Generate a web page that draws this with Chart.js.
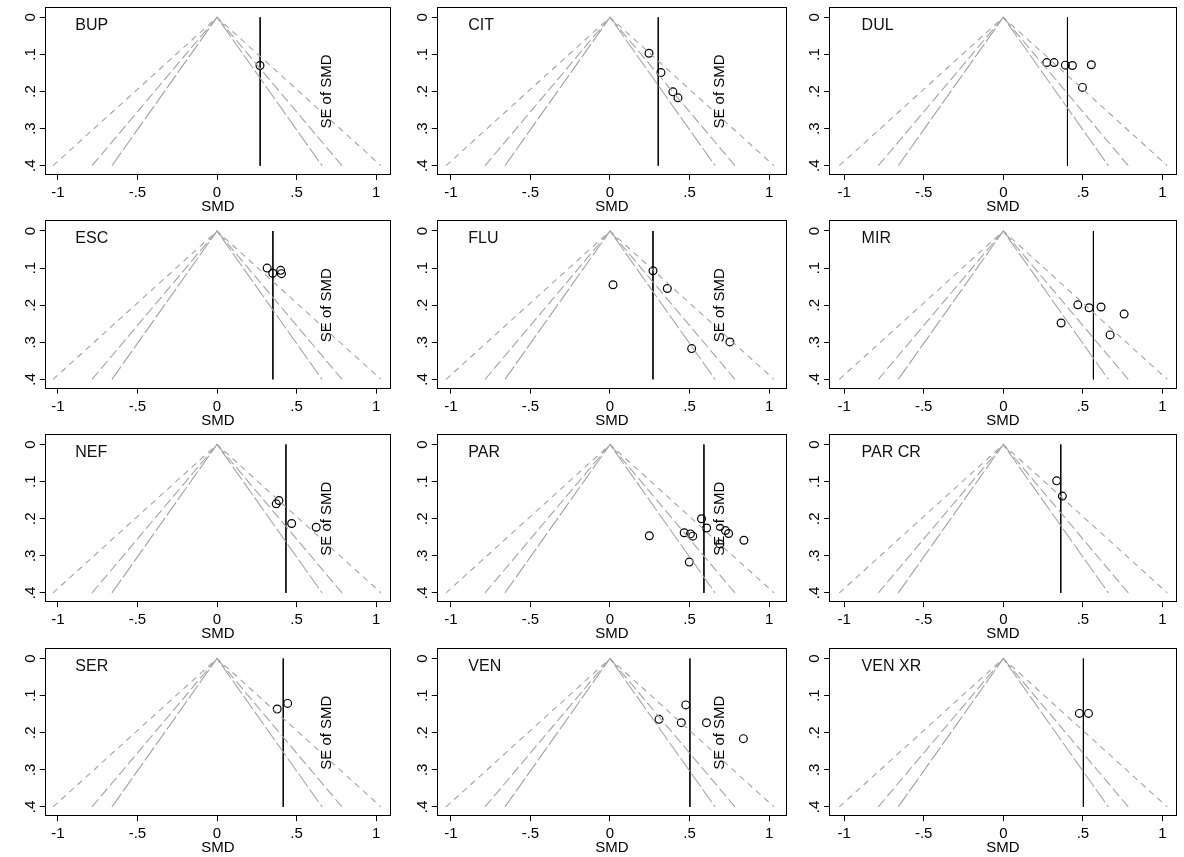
<!DOCTYPE html>
<html><head><meta charset="utf-8">
<script src="https://cdn.jsdelivr.net/npm/chart.js@4.4.1/dist/chart.umd.min.js"></script>
<style>
html,body{margin:0;padding:0;background:#fff;}
body{width:1184px;height:857px;overflow:hidden;position:relative;}
canvas{position:absolute;}
</style></head><body>
<script>
// ---------- data ----------
const panelNames = ['BUP','CIT','DUL','ESC','FLU','MIR','NEF','PAR','PAR CR','SER','VEN','VEN XR'];

const bupSMD = [0.27];
const bupSE  = [0.13];
const citSMD = [0.245, 0.32, 0.395, 0.427];
const citSE  = [0.097, 0.149, 0.201, 0.217];
const dulSMD = [0.273, 0.319, 0.39, 0.434, 0.553, 0.497];
const dulSE  = [0.122, 0.122, 0.129, 0.130, 0.128, 0.189];
const escSMD = [0.315, 0.35, 0.40, 0.405];
const escSE  = [0.100, 0.114, 0.106, 0.115];
const fluSMD = [0.27, 0.019, 0.36, 0.513, 0.753];
const fluSE  = [0.107, 0.145, 0.155, 0.317, 0.299];
const mirSMD = [0.468, 0.539, 0.614, 0.759, 0.363, 0.671];
const mirSE  = [0.199, 0.207, 0.205, 0.224, 0.248, 0.280];
const nefSMD = [0.372, 0.389, 0.469, 0.623];
const nefSE  = [0.160, 0.151, 0.213, 0.223];
const parSMD = [0.247, 0.466, 0.505, 0.52, 0.575, 0.607, 0.725, 0.745, 0.69, 0.841, 0.498];
const parSE  = [0.246, 0.238, 0.241, 0.247, 0.200, 0.225, 0.232, 0.240, 0.268, 0.258, 0.317];
const parcrSMD = [0.335, 0.371];
const parcrSE  = [0.098, 0.139];
const serSMD = [0.378, 0.444];
const serSE  = [0.136, 0.121];
const venSMD = [0.308, 0.448, 0.476, 0.606, 0.838];
const venSE  = [0.164, 0.173, 0.125, 0.173, 0.216];
const venxrSMD = [0.478, 0.535];
const venxrSE  = [0.148, 0.148];

const pooledSMD = [0.271, 0.303, 0.403, 0.351, 0.27, 0.566, 0.433, 0.59, 0.361, 0.416, 0.502, 0.503];

const xTickValues = [-1, -0.5, 0, 0.5, 1];
const xTickLabels = ['-1', '-.5', '0', '.5', '1'];
const yTickValues = [0, 0.1, 0.2, 0.3, 0.4];
const yTickLabels = ['0', '.1', '.2', '.3', '.4'];

// funnel limits read at SE = .4 (inner, middle, outer)
const funnelEdgeSMD = [0.66, 0.785, 1.03];
const funnelMaxSE = 0.4;

const panelSMD = [bupSMD, citSMD, dulSMD, escSMD, fluSMD, mirSMD, nefSMD, parSMD, parcrSMD, serSMD, venSMD, venxrSMD];
const panelSE  = [bupSE, citSE, dulSE, escSE, fluSE, mirSE, nefSE, parSE, parcrSE, serSE, venSE, venxrSE];

// ---------- layout ----------
const colZeroPx = [217, 610, 1003.3];
const colXmin = [-1.082, -1.088, -1.094];
const colXmax = [1.093, 1.113, 1.09];
const unitX = 159.2;
const rowZeroPx = [17.3, 231, 444.5, 658.5];
const unitY = 371;
const yMin = -0.029, yMax = 0.425;
const FONT = '"Liberation Sans", Arial, Helvetica, sans-serif';
const funnelDash = [[16, 3], [10, 4], [6, 5]];

const panelDecor = {
  id: 'panelDecor',
  afterDraw(chart, args, opts) {
    const {ctx, chartArea: a} = chart;
    const x = chart.scales.x, y = chart.scales.y;
    ctx.save();
    ctx.strokeStyle = '#000';
    ctx.lineWidth = 1;
    const l = Math.round(a.left), t = Math.round(a.top), r = Math.round(a.right), b = Math.round(a.bottom);
    ctx.strokeRect(l + 0.5, t + 0.5, r - l - 1, b - t - 1);
    ctx.fillStyle = '#000';
    ctx.font = '15px ' + FONT;
    yTickValues.forEach((v, k) => {
      const py = y.getPixelForValue(v);
      ctx.save();
      ctx.translate(a.left - 10, py);
      ctx.rotate(-Math.PI / 2);
      ctx.textAlign = 'center';
      ctx.textBaseline = 'alphabetic';
      ctx.fillText(yTickLabels[k], 0, 0);
      ctx.restore();
    });
    ctx.font = '16px ' + FONT;
    ctx.fillStyle = '#111';
    ctx.textAlign = 'left';
    ctx.textBaseline = 'middle';
    ctx.fillText(opts.name, x.getPixelForValue(-0.89), y.getPixelForValue(0.0215));
    if (opts.seText) {
      ctx.save();
      ctx.fillStyle = '#000';
      ctx.font = '15px ' + FONT;
      ctx.translate(x.getPixelForValue(0.69), y.getPixelForValue(0.2));
      ctx.rotate(-Math.PI / 2);
      ctx.textAlign = 'center';
      ctx.textBaseline = 'middle';
      ctx.fillText('SE of SMD', 0, 0);
      ctx.restore();
    }
    ctx.restore();
  }
};

panelNames.forEach((name, i) => {
  const r = Math.floor(i / 3), c = i % 3;
  const boxLeft = colZeroPx[c] + colXmin[c] * unitX;
  const boxRight = colZeroPx[c] + colXmax[c] * unitX;
  const boxTop = rowZeroPx[r] + yMin * unitY;
  const boxBottom = rowZeroPx[r] + yMax * unitY;
  const cl = Math.floor(boxLeft) - 45;
  const ct = Math.floor(boxTop) - 6;
  const cw = Math.ceil(boxRight) + 6 - cl;
  const ch = Math.ceil(boxBottom) + 42 - ct;
  const yWidth = boxLeft - cl;
  const padTop = boxTop - ct;
  const padRight = cw - (boxRight - cl);
  const xHeight = ch - (boxBottom - ct);
  const titleOffset = (ct + ch) - (boxBottom + 32);

  const cv = document.createElement('canvas');
  cv.width = cw; cv.height = ch;
  cv.style.left = cl + 'px'; cv.style.top = ct + 'px';
  cv.style.width = cw + 'px'; cv.style.height = ch + 'px';
  document.body.appendChild(cv);

  const datasets = [];
  funnelEdgeSMD.forEach((e, k) => {
    datasets.push({
      type: 'scatter', showLine: true,
      data: [{x: -e, y: funnelMaxSE}, {x: 0, y: 0}, {x: e, y: funnelMaxSE}],
      borderColor: '#a3a3a3', borderWidth: 1.1, borderDash: funnelDash[k],
      pointRadius: 0, fill: false, tension: 0
    });
  });
  datasets.push({
    type: 'scatter', showLine: true,
    data: [{x: pooledSMD[i], y: 0}, {x: pooledSMD[i], y: funnelMaxSE}],
    borderColor: '#000', borderWidth: 0.9, pointRadius: 0, fill: false
  });
  datasets.push({
    type: 'scatter',
    data: panelSMD[i].map((v, k) => ({x: v, y: panelSE[i][k]})),
    pointStyle: 'circle', pointRadius: 3.9, pointBorderWidth: 1.2,
    borderColor: '#000', backgroundColor: 'rgba(0,0,0,0)',
    pointBorderColor: '#000', pointBackgroundColor: 'rgba(0,0,0,0)'
  });

  new Chart(cv, {
    type: 'scatter',
    data: {datasets},
    options: {
      responsive: false, animation: false, devicePixelRatio: 1,
      layout: {padding: {left: 0, top: padTop, right: padRight, bottom: 0}},
      plugins: {legend: {display: false}, tooltip: {enabled: false},
        panelDecor: {name: name, seText: c < 2}},
      scales: {
        x: {
          type: 'linear', position: 'bottom',
          min: colXmin[c], max: colXmax[c],
          afterBuildTicks: s => { s.ticks = xTickValues.map(v => ({value: v})); },
          afterFit: s => { s.height = xHeight; },
          grid: {drawOnChartArea: false, drawTicks: true, tickLength: 5, color: '#000', lineWidth: 1},
          border: {display: false},
          ticks: {autoSkip: false, maxRotation: 0, minRotation: 0, padding: 4, color: '#000',
            font: {family: FONT, size: 15},
            callback: v => xTickLabels[xTickValues.indexOf(v)]},
          title: {display: true, text: 'SMD', color: '#000', font: {family: FONT, size: 15},
            padding: {top: 0, bottom: titleOffset - 9}}
        },
        y: {
          type: 'linear', position: 'left', reverse: true,
          min: yMin, max: yMax,
          afterBuildTicks: s => { s.ticks = yTickValues.map(v => ({value: v})); },
          afterFit: s => { s.width = yWidth; },
          grid: {drawOnChartArea: false, drawTicks: true, tickLength: 5, color: '#000', lineWidth: 1},
          border: {display: false},
          ticks: {display: false}
        }
      }
    },
    plugins: [panelDecor]
  });
});
</script>
</body></html>
